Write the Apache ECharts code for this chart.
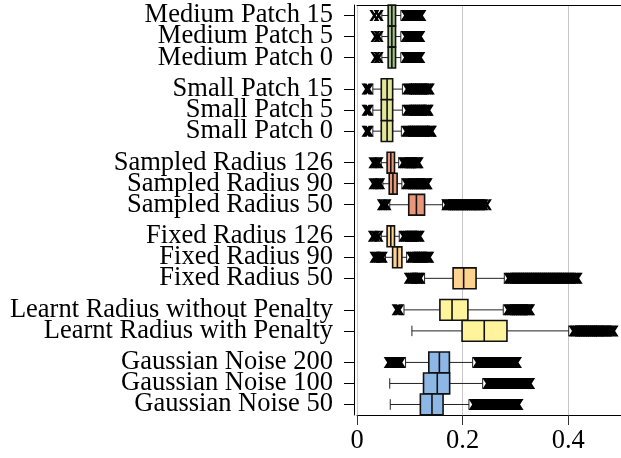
<!DOCTYPE html>
<html>
<head>
<meta charset="utf-8">
<script src="https://cdn.jsdelivr.net/npm/echarts@6/dist/echarts.min.js"></script>
<style>html,body{margin:0;padding:0;background:#fff}#c{width:621px;height:458px}</style>
</head>
<body>
<div id="c"></div>
<script>
// ---- data ----
const groups = [
  ['Medium Patch 15', 'Medium Patch 5', 'Medium Patch 0'],
  ['Small Patch 15', 'Small Patch 5', 'Small Patch 0'],
  ['Sampled Radius 126', 'Sampled Radius 90', 'Sampled Radius 50'],
  ['Fixed Radius 126', 'Fixed Radius 90', 'Fixed Radius 50'],
  ['Learnt Radius without Penalty', 'Learnt Radius with Penalty'],
  ['Gaussian Noise 200', 'Gaussian Noise 100', 'Gaussian Noise 50']
];
const groupColors = ['#a3c088', '#e4e79a', '#e9967a', '#fdd48f', '#fff49c', '#8db8e6'];

const minVals = [0.047, 0.047, 0.047, 0.030, 0.030, 0.030, 0.046, 0.049, 0.062, 0.046, 0.054, 0.128, 0.089, 0.104, 0.092, 0.062, 0.063];
const q1Vals  = [0.059, 0.059, 0.059, 0.046, 0.046, 0.046, 0.057, 0.061, 0.098, 0.057, 0.0675, 0.182, 0.157, 0.199, 0.136, 0.126, 0.120];
const medVals = [0.066, 0.066, 0.066, 0.057, 0.057, 0.057, 0.064, 0.068, 0.1125, 0.064, 0.0765, 0.202, 0.180, 0.241, 0.156, 0.152, 0.142];
const q3Vals  = [0.073, 0.073, 0.073, 0.0675, 0.0675, 0.0675, 0.071, 0.076, 0.128, 0.071, 0.085, 0.2255, 0.210, 0.284, 0.175, 0.1755, 0.163];
const maxVals = [0.083, 0.083, 0.083, 0.086, 0.086, 0.084, 0.079, 0.085, 0.162, 0.080, 0.094, 0.279, 0.277, 0.401, 0.219, 0.238, 0.212];

const outliers = [
  [0.033, 0.041, 0.092, 0.096, 0.100, 0.104, 0.108, 0.112, 0.116, 0.119, 0.122],
  [0.035, 0.041, 0.092, 0.096, 0.100, 0.104, 0.108, 0.112, 0.116, 0.120],
  [0.035, 0.041, 0.092, 0.096, 0.100, 0.104, 0.108, 0.112, 0.116, 0.120],
  [0.018, 0.022, 0.095, 0.099, 0.103, 0.107, 0.111, 0.115, 0.119, 0.123, 0.127, 0.131, 0.135, 0.138],
  [0.018, 0.022, 0.095, 0.099, 0.103, 0.107, 0.111, 0.115, 0.119, 0.123, 0.127, 0.131, 0.134, 0.136],
  [0.018, 0.022, 0.093, 0.097, 0.101, 0.105, 0.109, 0.113, 0.117, 0.121, 0.125, 0.129, 0.133, 0.137, 0.140, 0.142],
  [0.031, 0.036, 0.041, 0.087, 0.091, 0.095, 0.099, 0.103, 0.107, 0.111, 0.114, 0.117],
  [0.031, 0.036, 0.040, 0.044, 0.093, 0.097, 0.101, 0.105, 0.109, 0.113, 0.117, 0.121, 0.125, 0.129, 0.132, 0.134],
  [0.047, 0.051, 0.056, 0.169, 0.173, 0.177, 0.181, 0.185, 0.189, 0.193, 0.197, 0.201, 0.205, 0.209, 0.213, 0.217, 0.221, 0.225, 0.229, 0.232, 0.236, 0.240, 0.246],
  [0.030, 0.035, 0.041, 0.088, 0.092, 0.096, 0.100, 0.104, 0.108, 0.112, 0.116, 0.119],
  [0.033, 0.037, 0.041, 0.045, 0.049, 0.102, 0.106, 0.110, 0.114, 0.118, 0.122, 0.126, 0.130, 0.134, 0.137],
  [0.098, 0.102, 0.106, 0.110, 0.114, 0.117, 0.120, 0.287, 0.291, 0.295, 0.299, 0.303, 0.307, 0.311, 0.315, 0.319, 0.323, 0.327, 0.331, 0.335, 0.339, 0.343, 0.347, 0.351, 0.355, 0.359, 0.363, 0.367, 0.371, 0.375, 0.379, 0.383, 0.387, 0.391, 0.395, 0.400, 0.405, 0.410, 0.414, 0.418],
  [0.075, 0.080, 0.286, 0.290, 0.294, 0.298, 0.302, 0.306, 0.310, 0.314, 0.318, 0.322, 0.325, 0.328],
  [0.410, 0.414, 0.418, 0.422, 0.426, 0.430, 0.434, 0.438, 0.442, 0.446, 0.450, 0.454, 0.458, 0.461, 0.466, 0.471, 0.476, 0.481, 0.486],
  [0.060, 0.064, 0.068, 0.072, 0.076, 0.080, 0.083, 0.228, 0.232, 0.236, 0.240, 0.244, 0.248, 0.252, 0.256, 0.260, 0.264, 0.268, 0.272, 0.276, 0.280, 0.284, 0.287, 0.291, 0.295, 0.299, 0.303],
  [0.247, 0.251, 0.255, 0.259, 0.263, 0.267, 0.271, 0.275, 0.279, 0.283, 0.287, 0.291, 0.295, 0.299, 0.303, 0.307, 0.311, 0.315, 0.319, 0.323, 0.328],
  [0.221, 0.225, 0.229, 0.233, 0.237, 0.241, 0.245, 0.249, 0.253, 0.257, 0.261, 0.265, 0.269, 0.273, 0.277, 0.281, 0.285, 0.289, 0.292, 0.294, 0.298, 0.302, 0.306]
];

const xTicks = [0, 0.2, 0.4];

// ---- build category axis with half-slot spacing ----
const cats = ['#g0'];
const rowIdx = [];
const rowColors = [];
let gapN = 1;
groups.forEach((g, gi) => {
  g.forEach((name, j) => {
    rowIdx.push(cats.length);
    rowColors.push(groupColors[gi]);
    cats.push(name);
    if (j < g.length - 1) cats.push('#g' + (gapN++));
  });
  if (gi < groups.length - 1) { cats.push('#g' + (gapN++)); cats.push('#g' + (gapN++)); }
});
cats.push('#g' + (gapN++));

const isLabel = (idx) => String(cats[idx]).charAt(0) !== '#';
// end placeholders keep real first/last labels from being auto-hidden
const showLabel = (idx) => isLabel(idx) || idx === 0 || idx === cats.length - 1;

const boxData = rowIdx.map((yi, i) => [yi, minVals[i], q1Vals[i], medVals[i], q3Vals[i], maxVals[i]]);
const outData = [];
outliers.forEach((arr, i) => arr.forEach(v => outData.push([v, rowIdx[i]])));

const FONT = 'Liberation Serif';
const xSym = 'path://M0,0L3,0L5,3.14L7,0L10,0L6.5,5.5L10,11L7,11L5,7.86L3,11L0,11L3.5,5.5Z';

const chart = echarts.init(document.getElementById('c'), null, {renderer: 'canvas'});
chart.setOption({
  animation: false,
  backgroundColor: '#fff',
  grid: {left: 357, right: 0, top: 5, bottom: 43, outerBoundsMode: 'none', containLabel: false},
  xAxis: [{
    type: 'value', min: 0, max: 0.5,
    axisLine: {show: true, onZero: false, lineStyle: {color: '#000', width: 1}},
    axisTick: {show: true, length: 10, customValues: xTicks, lineStyle: {color: '#333', width: 1}},
    axisLabel: {customValues: xTicks, margin: 13, fontFamily: FONT, fontSize: 26.5, color: '#000',
      formatter: v => String(v)},
    splitLine: {show: true, lineStyle: {color: '#c8c8c8', width: 1}}
  }, {
    type: 'value', position: 'top', min: 0, max: 0.5,
    axisLine: {show: true, onZero: false, lineStyle: {color: '#000', width: 1}},
    axisTick: {show: false}, axisLabel: {show: false}, splitLine: {show: false}
  }],
  yAxis: {
    type: 'category', inverse: true, boundaryGap: false, data: cats, offset: 3,
    axisLine: {show: true, onZero: false, lineStyle: {color: '#000', width: 1}},
    axisTick: {show: true, length: 10, interval: isLabel, lineStyle: {color: '#000', width: 1}},
    axisLabel: {interval: showLabel, margin: 21, fontFamily: FONT, fontSize: 26.5, color: '#000',
      hideOverlap: false,
      formatter: v => (String(v).charAt(0) === '#' ? ' ' : v)},
    splitLine: {show: false}
  },
  series: [{
    type: 'custom',
    xAxisIndex: 0,
    data: boxData,
    encode: {x: [1, 2, 3, 4, 5], y: 0},
    silent: true,
    renderItem: function (params, api) {
      const yi = api.value(0);
      const p = [1, 2, 3, 4, 5].map(k => api.coord([api.value(k), yi]));
      const y = p[0][1];
      const band = api.size([0, 1])[1];
      const h = band * 2 - 0.2;
      const cap = band;
      const col = rowColors[params.dataIndex];
      const ls = {stroke: '#222', lineWidth: 1};
      return {
        type: 'group', children: [
          {type: 'line', shape: {x1: p[0][0], y1: y, x2: p[1][0], y2: y}, style: ls},
          {type: 'line', shape: {x1: p[3][0], y1: y, x2: p[4][0], y2: y}, style: ls},
          {type: 'line', shape: {x1: p[0][0], y1: y - cap / 2, x2: p[0][0], y2: y + cap / 2}, style: ls},
          {type: 'line', shape: {x1: p[4][0], y1: y - cap / 2, x2: p[4][0], y2: y + cap / 2}, style: ls},
          {type: 'rect', shape: {x: p[1][0], y: y - h / 2, width: p[3][0] - p[1][0], height: h},
            style: {fill: col, stroke: '#111', lineWidth: 1.6}},
          {type: 'line', shape: {x1: p[2][0], y1: y - h / 2, x2: p[2][0], y2: y + h / 2},
            style: {stroke: '#111', lineWidth: 1.6}}
        ]
      };
    }
  }, {
    type: 'scatter',
    xAxisIndex: 0,
    data: outData,
    symbol: xSym,
    symbolSize: [10, 11],
    itemStyle: {color: '#000', opacity: 1},
    silent: true,
    z: 5
  }]
});
</script>
</body>
</html>
